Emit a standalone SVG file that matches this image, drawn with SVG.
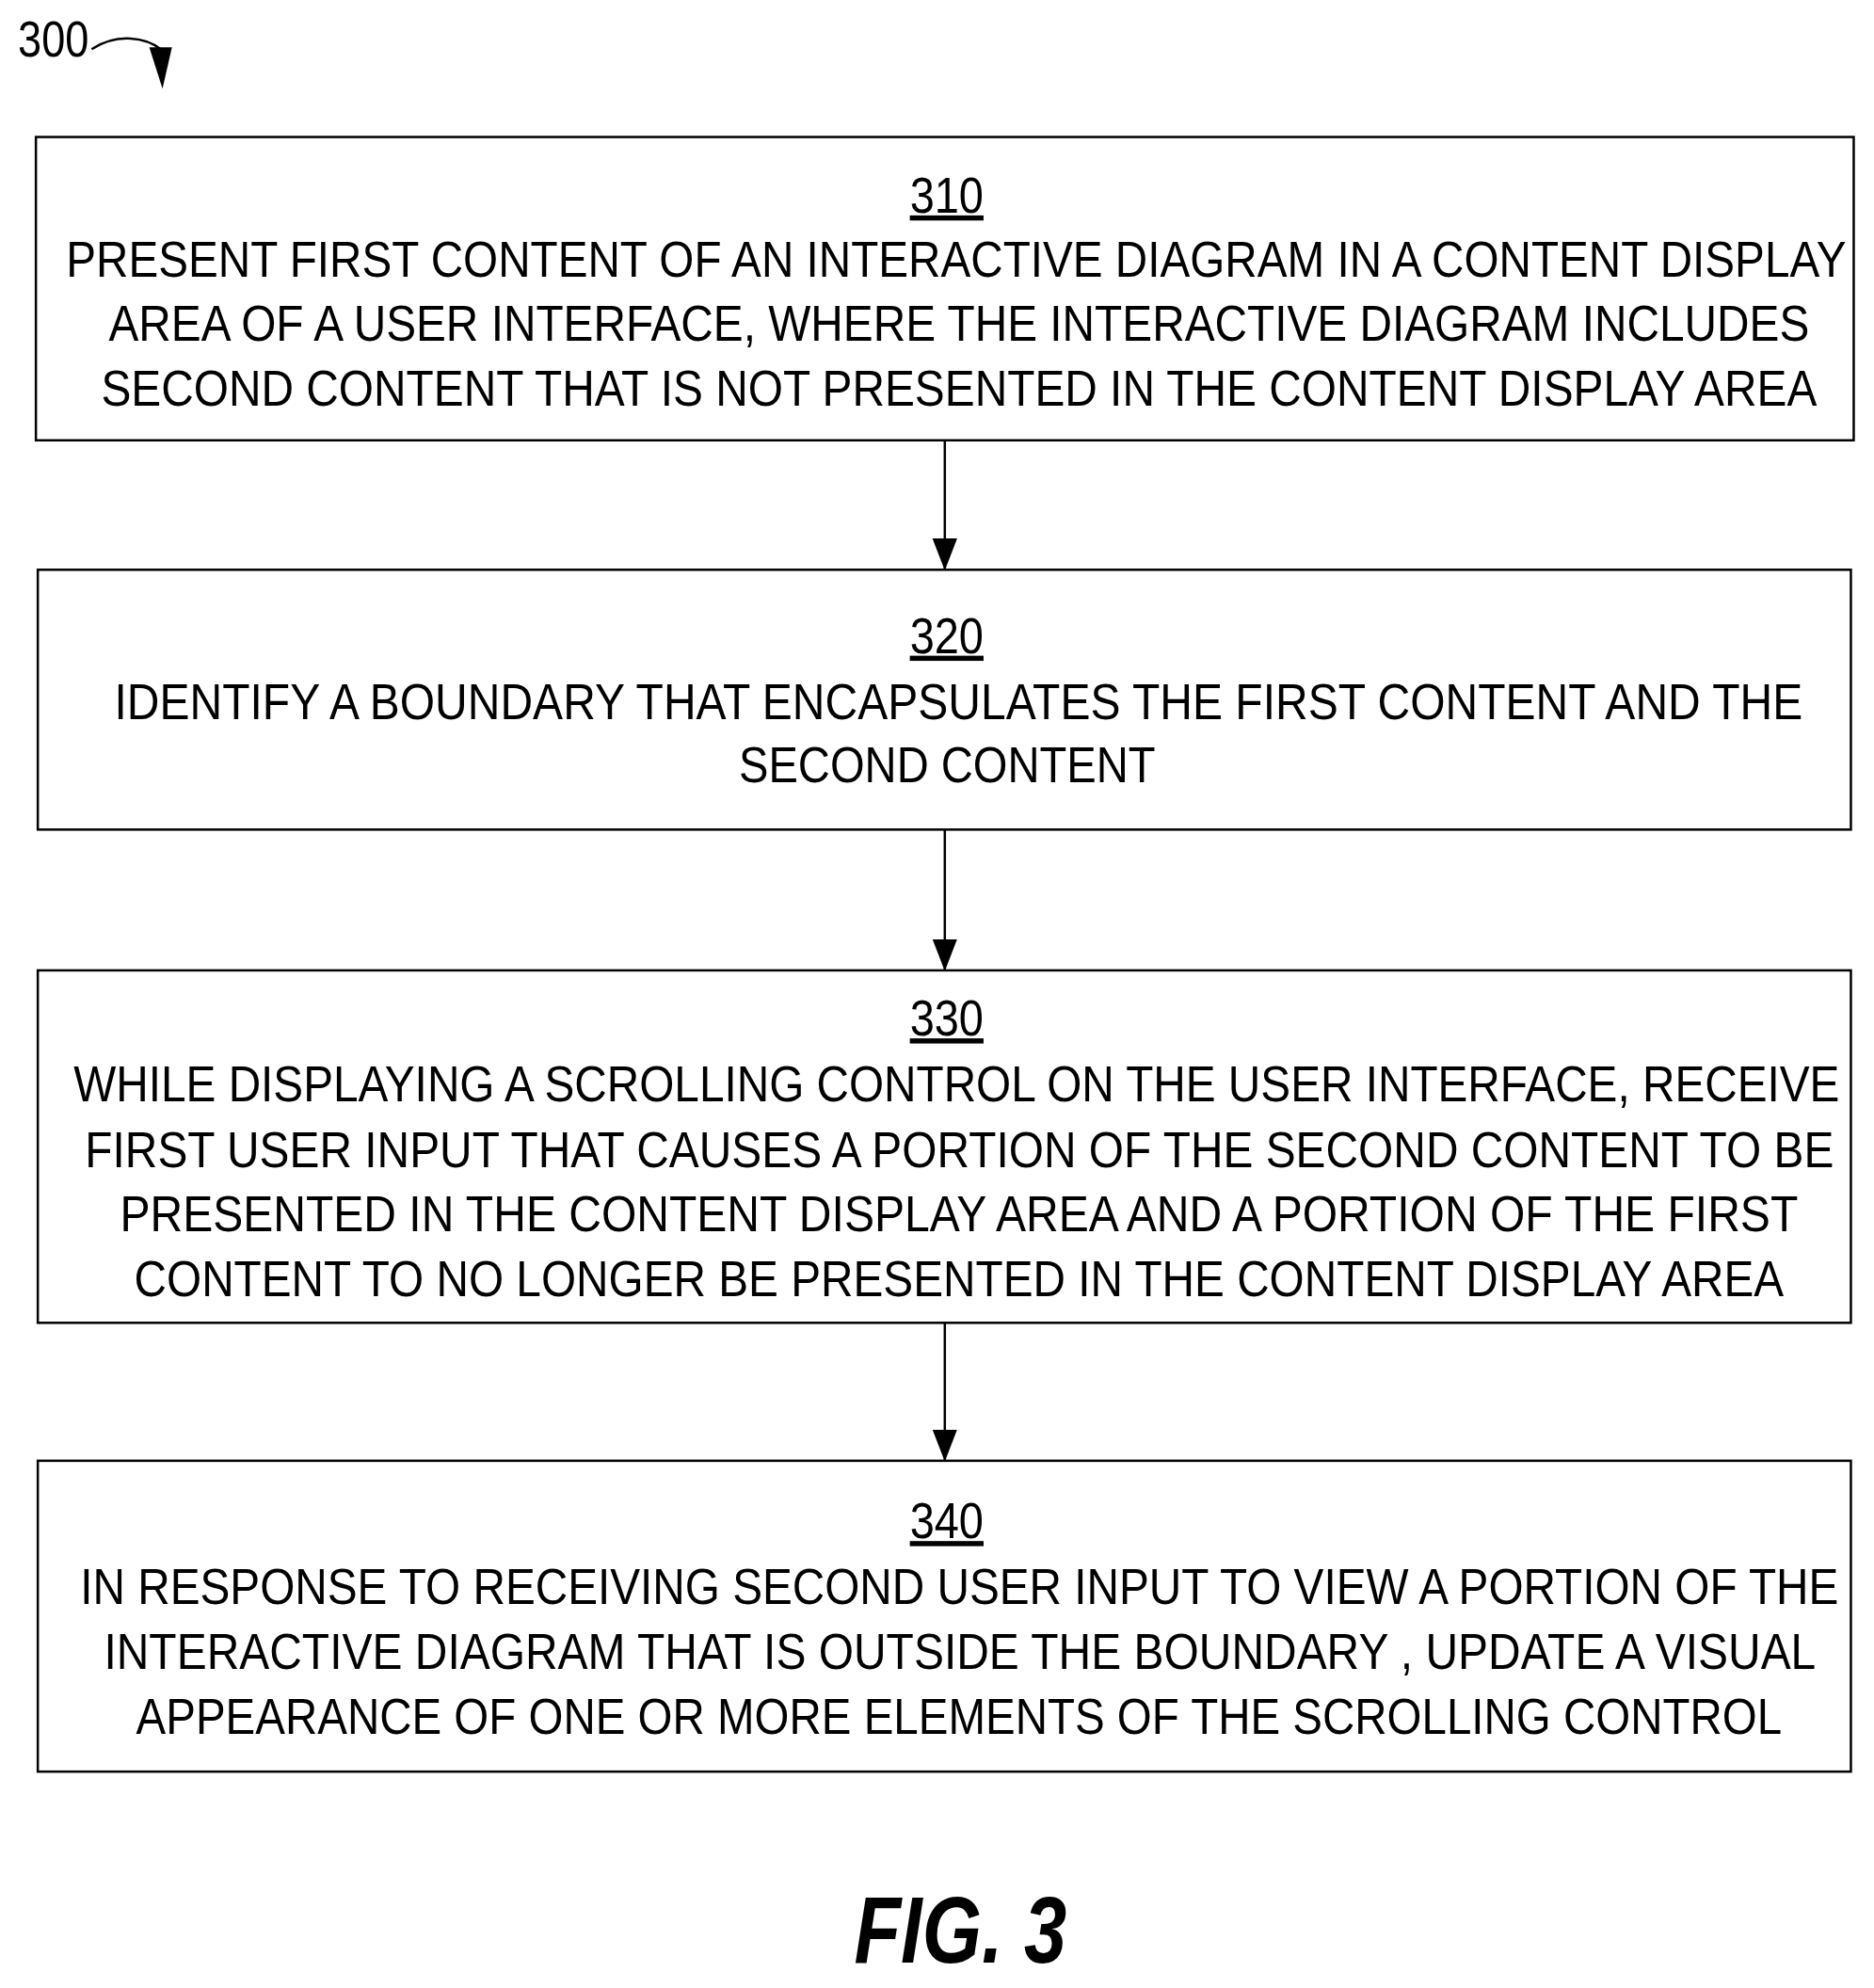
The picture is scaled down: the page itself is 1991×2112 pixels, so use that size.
<svg xmlns="http://www.w3.org/2000/svg" width="1991" height="2112" viewBox="0 0 1991 2112">
<style>
.box{fill:#fff;stroke:#000;stroke-width:2.5}
.t{font-family:"Liberation Sans",Arial,sans-serif;font-size:54px;fill:#000}
.n{text-decoration:underline;text-anchor:middle}
.c{stroke:#000;stroke-width:2.5;fill:none}
</style>
<defs>
<marker id="big" markerWidth="34" markerHeight="44" refX="43" refY="17" orient="auto" markerUnits="userSpaceOnUse" viewBox="0 0 44 34">
<path d="M0,0 L44,17 L0,34 Z" fill="#000"/>
</marker>
</defs>
<rect width="1991" height="2112" fill="#fff"/>
<g transform="scale(1.0038)">
<g id="label300">
<text class="t" x="19" y="60" textLength="75" lengthAdjust="spacingAndGlyphs">300</text>
<path class="c" d="M97,52 C125,34 155,40 170,52"/>
<path d="M158,50 L182,50 L172,94 Z" fill="#000"/>
</g>
<g id="connectors">
<line class="c" x1="1000" y1="466" x2="1000" y2="603" marker-end="url(#big)"/>
<line class="c" x1="1000" y1="878" x2="1000" y2="1027" marker-end="url(#big)"/>
<line class="c" x1="1000" y1="1400" x2="1000" y2="1546" marker-end="url(#big)"/>
</g>
<g id="n310">
<rect class="box" x="38" y="145" width="1924" height="321"/>
<text class="t n" x="1002" y="225" textLength="78" lengthAdjust="spacingAndGlyphs">310</text>
<text class="t" x="70" y="293" textLength="1884" lengthAdjust="spacingAndGlyphs">PRESENT FIRST CONTENT OF AN INTERACTIVE DIAGRAM IN A CONTENT DISPLAY</text>
<text class="t" x="115" y="361" textLength="1800" lengthAdjust="spacingAndGlyphs">AREA OF A USER INTERFACE, WHERE THE INTERACTIVE DIAGRAM INCLUDES</text>
<text class="t" x="107" y="429" textLength="1816" lengthAdjust="spacingAndGlyphs">SECOND CONTENT THAT IS NOT PRESENTED IN THE CONTENT DISPLAY AREA</text>
</g>
<g id="n320">
<rect class="box" x="40" y="603" width="1919" height="275"/>
<text class="t n" x="1002" y="691" textLength="78" lengthAdjust="spacingAndGlyphs">320</text>
<text class="t" x="121" y="761" textLength="1787" lengthAdjust="spacingAndGlyphs">IDENTIFY A BOUNDARY THAT ENCAPSULATES THE FIRST CONTENT AND THE</text>
<text class="t" x="782" y="828" textLength="441" lengthAdjust="spacingAndGlyphs">SECOND CONTENT</text>
</g>
<g id="n330">
<rect class="box" x="40" y="1027" width="1919" height="373"/>
<text class="t n" x="1002" y="1096" textLength="78" lengthAdjust="spacingAndGlyphs">330</text>
<text class="t" x="78" y="1166" textLength="1869" lengthAdjust="spacingAndGlyphs">WHILE DISPLAYING A SCROLLING CONTROL ON THE USER INTERFACE, RECEIVE</text>
<text class="t" x="90" y="1235" textLength="1851" lengthAdjust="spacingAndGlyphs">FIRST USER INPUT THAT CAUSES A PORTION OF THE SECOND CONTENT TO BE</text>
<text class="t" x="127" y="1303" textLength="1776" lengthAdjust="spacingAndGlyphs">PRESENTED IN THE CONTENT DISPLAY AREA AND A PORTION OF THE FIRST</text>
<text class="t" x="142" y="1372" textLength="1746" lengthAdjust="spacingAndGlyphs">CONTENT TO NO LONGER BE PRESENTED IN THE CONTENT DISPLAY AREA</text>
</g>
<g id="n340">
<rect class="box" x="40" y="1546" width="1919" height="329"/>
<text class="t n" x="1002" y="1628" textLength="78" lengthAdjust="spacingAndGlyphs">340</text>
<text class="t" x="85" y="1698" textLength="1861" lengthAdjust="spacingAndGlyphs">IN RESPONSE TO RECEIVING SECOND USER INPUT TO VIEW A PORTION OF THE</text>
<text class="t" x="110" y="1766" textLength="1812" lengthAdjust="spacingAndGlyphs">INTERACTIVE DIAGRAM THAT IS OUTSIDE THE BOUNDARY , UPDATE A VISUAL</text>
<text class="t" x="144" y="1835" textLength="1742" lengthAdjust="spacingAndGlyphs">APPEARANCE OF ONE OR MORE ELEMENTS OF THE SCROLLING CONTROL</text>
</g>
<text x="904" y="2077" font-family="Liberation Sans,Arial,sans-serif" font-weight="bold" font-style="italic" font-size="100" textLength="225" lengthAdjust="spacingAndGlyphs">FIG. 3</text>
</g>
</svg>
